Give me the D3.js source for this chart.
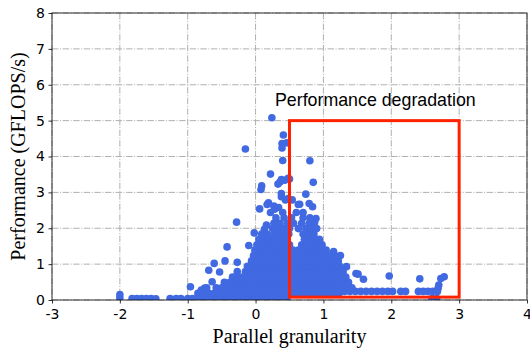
<!DOCTYPE html>
<html><head><meta charset="utf-8">
<script src="https://cdn.jsdelivr.net/npm/d3@7"></script>
<style>body{margin:0;background:#fff} svg{display:block}</style>
</head><body><svg id="c" width="530" height="349"></svg>
<script>
const xTicks = [-3, -2, -1, 0, 1, 2, 3, 4];
const yTicks = [0, 1, 2, 3, 4, 5, 6, 7, 8];
const xLabel = "Parallel granularity";
const yLabel = "Performance (GFLOPS/s)";
const regionLabel = "Performance degradation";
const region = { x0: 0.5, x1: 3, y0: 0.08, y1: 5 };

// scattered points [granularity, GFLOPS/s]
const scattered = [
 [0.24,5.08],[-0.15,4.21],[0.41,4.6],[0.46,4.38],[0.39,4.24],[0.39,4.36],[0.40,3.89],[0.80,3.88],
 [0.22,3.51],[0.38,3.36],[0.36,3.29],[0.33,3.23],[0.43,3.34],[0.48,3.39],[0.50,3.37],[0.85,3.28],
 [0.09,3.18],[0.08,3.08],[0.38,2.97],[0.38,2.88],[0.74,2.95],[0.19,2.71],[0.06,2.54],[0.63,2.66],
 [0.79,2.69],[0.28,2.53],[0.34,2.58],[0.44,2.79],[0.48,2.83],[0.54,2.79],[0.65,2.67],[0.84,2.6],
 [0.17,2.66],[0.27,2.62],[-0.28,2.17],[0.16,2.09],[0.13,1.97],[0.89,2.27],[0.87,2.16],
 [-0.42,1.48],[-0.10,1.52],[-0.02,1.87],[-0.61,1.02],[-0.69,0.83],[-0.53,0.78],[-0.45,1.09],
 [-0.27,1.05],[-0.64,0.51],[-0.96,0.37],[-0.27,0.79],[-0.27,0.65],[-0.8,0.28],[-0.75,0.33],
 [1.34,0.93],[1.48,0.74],[1.04,1.39],[1.15,1.35],[1.25,1.24],[1.51,0.72],[1.59,0.58],
 [1.97,0.67],[2.42,0.59],[2.78,0.65],[2.73,0.6],[2.70,0.42],[2.69,0.33],
 [-2.0,0.15],[-2.0,0.06],[-1.82,0.04],[-1.75,0.04],[-1.68,0.04],[-1.61,0.04],[-1.54,0.04],
 [-1.47,0.03],[-1.26,0.04],[-1.17,0.04],[-1.1,0.04]
];

// dense core, row by row: performance level and granularity values on that row
const rowLevels = [0.04, 0.19, 0.24, 0.34, 0.49, 0.64, 0.79, 0.94, 1.09, 1.24, 1.39, 1.54, 1.69, 1.84, 1.99, 2.14, 2.29, 2.44];
const rowValues = [
 [-1.0,-0.93,-0.86,-0.79,-0.72,-0.65,-0.58,-0.51,-0.44,-0.37,-0.3,-0.23,-0.16,-0.09,-0.02,0.05,0.12,0.19,0.26,0.33,0.4,0.46,2.6,2.67],
 [-0.85,-0.77,-0.69,-0.61,-0.53,-0.45,-0.37,-0.29,-0.21,-0.13,-0.05,0.03,0.11,0.19,0.27,0.35,0.43,0.51,0.59,0.67,0.75,0.83,0.91,0.99,1.07,1.15,1.23],
 [1.31,1.39,1.47,1.55,1.63,1.71,1.79,1.87,1.95,2.02,2.14,2.21,2.4,2.47,2.54,2.61,2.68],
 [-0.72,-0.58,-0.5,-0.42,-0.34,-0.26,-0.18,-0.1,-0.02,0.06,0.14,0.22,0.3,0.38,0.46,0.54,0.62,0.7,0.78,0.86,0.94,1.02,1.1,1.18,1.26,1.34,1.42],
 [-0.46,-0.38,-0.3,-0.22,-0.14,-0.06,0.02,0.1,0.18,0.26,0.34,0.42,0.5,0.58,0.66,0.74,0.82,0.9,0.98,1.06,1.14,1.22,1.3,1.37],
 [-0.34,-0.19,-0.11,-0.03,0.05,0.13,0.21,0.29,0.37,0.45,0.53,0.61,0.69,0.77,0.85,0.93,1.01,1.09,1.17,1.25,1.33],
 [-0.15,-0.07,0.01,0.09,0.17,0.25,0.33,0.41,0.49,0.57,0.65,0.73,0.81,0.89,0.97,1.05,1.13,1.21,1.29],
 [-0.12,-0.04,0.04,0.12,0.2,0.28,0.36,0.44,0.52,0.6,0.68,0.76,0.84,0.92,1.0,1.08,1.16,1.24],
 [-0.06,0.02,0.1,0.18,0.26,0.34,0.42,0.5,0.58,0.66,0.74,0.82,0.9,0.98,1.06,1.14,1.22],
 [-0.03,0.05,0.13,0.21,0.29,0.37,0.45,0.53,0.61,0.69,0.77,0.85,0.93,1.01,1.09,1.17],
 [-0.01,0.07,0.15,0.23,0.31,0.39,0.47,0.55,0.63,0.71,0.79,0.87,0.95,1.0],
 [0.02,0.1,0.18,0.26,0.34,0.42,0.5,0.68,0.76,0.84,0.92,0.98],
 [0.05,0.13,0.21,0.29,0.37,0.45,0.72,0.8,0.88,0.94],
 [0.09,0.17,0.27,0.35,0.43,0.49,0.7,0.78,0.86],
 [0.25,0.33,0.41,0.5,0.63,0.74,0.82,0.9],
 [0.27,0.36,0.47,0.56,0.68,0.79],
 [0.3,0.42,0.53,0.7,0.8],
 [0.22,0.4,0.6,0.7]
];

const points = scattered.slice();
rowLevels.forEach((lv, i) => rowValues[i].forEach(v => points.push([v, lv])));

const svg = d3.select("#c");
const m = { l: 52, t: 13, r: 3, b: 49 };
const W = 530 - m.l - m.r, H = 349 - m.t - m.b;
const x = d3.scaleLinear().domain([-3, 4]).range([m.l, m.l + W]);
const y = d3.scaleLinear().domain([0, 8]).range([m.t + H, m.t]);

svg.append("defs").append("clipPath").attr("id", "clip")
  .append("rect").attr("x", m.l).attr("y", m.t).attr("width", W).attr("height", H);

// grid
const grid = svg.append("g").attr("stroke", "#b0b0b0").attr("stroke-width", 1)
  .attr("stroke-dasharray", "6.4,1.6,1,1.6");
grid.selectAll(".gx").data(xTicks).join("line")
  .attr("x1", d => x(d)).attr("x2", d => x(d)).attr("y1", m.t).attr("y2", m.t + H);
grid.selectAll(".gy").data(yTicks).join("line")
  .attr("y1", d => y(d)).attr("y2", d => y(d)).attr("x1", m.l).attr("x2", m.l + W);

// points
svg.append("g").attr("clip-path", "url(#clip)").selectAll("circle").data(points).join("circle")
  .attr("cx", d => x(d[0])).attr("cy", d => y(d[1])).attr("r", 3.8).attr("fill", "#4169e1");

// degradation region
svg.append("rect")
  .attr("x", x(region.x0)).attr("y", y(region.y1))
  .attr("width", x(region.x1) - x(region.x0)).attr("height", y(region.y0) - y(region.y1))
  .attr("fill", "none").attr("stroke", "#ff2200").attr("stroke-width", 3);
svg.append("text").attr("x", 275).attr("y", 106)
  .attr("font-family", "'Liberation Sans', Arial, sans-serif").attr("font-size", 17.8)
  .attr("fill", "#000").text(regionLabel);

// axes
const fmt = d => String(d);
const xa = svg.append("g").attr("transform", `translate(0,${m.t + H})`)
  .call(d3.axisBottom(x).tickValues(xTicks).tickSize(3.5).tickPadding(6).tickFormat(fmt));
const ya = svg.append("g").attr("transform", `translate(${m.l},0)`)
  .call(d3.axisLeft(y).tickValues(yTicks).tickSize(3.5).tickPadding(3.5).tickFormat(fmt));
[xa, ya].forEach(a => {
  a.select(".domain").remove();
  a.selectAll("line").attr("stroke", "#000").attr("stroke-width", 0.8);
  a.selectAll("text").attr("font-family", "'DejaVu Sans', sans-serif").attr("font-size", 14).attr("fill", "#000");
});

// spines
svg.append("rect").attr("x", m.l).attr("y", m.t).attr("width", W).attr("height", H)
  .attr("fill", "none").attr("stroke", "#000").attr("stroke-width", 0.8);

// axis labels
svg.append("text").attr("x", m.l + W / 2).attr("y", 342.5).attr("text-anchor", "middle")
  .attr("font-family", "'Liberation Serif', 'Times New Roman', serif").attr("font-size", 20)
  .attr("fill", "#000").text(xLabel);
svg.append("text").attr("transform", `translate(25,${m.t + H / 2}) rotate(-90)`).attr("text-anchor", "middle")
  .attr("font-family", "'Liberation Serif', 'Times New Roman', serif").attr("font-size", 20)
  .attr("fill", "#000").text(yLabel);
</script></body></html>
